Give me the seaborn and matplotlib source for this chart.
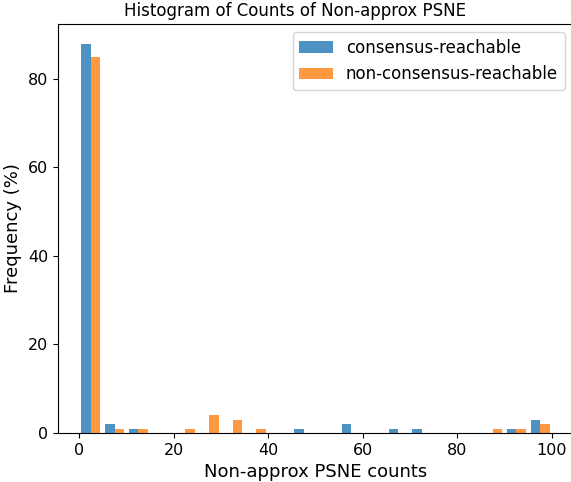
"""Histogram of non-approx PSNE counts, split by consensus reachability."""

import numpy as np
import pandas as pd
import matplotlib
matplotlib.use("Agg")
import matplotlib.pyplot as plt
import seaborn as sns

# bin edges (width 5, from 0 to 100)
bin_edges = list(range(0, 105, 5))

# percentage of games per bin
consensus_pct = [88, 2, 1, 0, 0, 0, 0, 0, 0, 1, 0, 2, 0, 1, 1, 0, 0, 0, 1, 3]
non_consensus_pct = [85, 1, 1, 0, 1, 4, 3, 1, 0, 0, 0, 0, 0, 0, 0, 0, 0, 1, 1, 2]

groups = ["consensus-reachable", "non-consensus-reachable"]
colors = ["#1f77b4", "#ff7f0e"]

# one row per bin and group, placed at the bin centre and weighted by its share
centres = [(a + b) / 2 for a, b in zip(bin_edges[:-1], bin_edges[1:])]
df = pd.DataFrame({
    "count": centres * 2,
    "weight": consensus_pct + non_consensus_pct,
    "group": [groups[0]] * len(centres) + [groups[1]] * len(centres),
})

fig = plt.figure(figsize=(5.71, 4.82), dpi=100)
ax = fig.add_axes([0.1016, 0.1017, 0.9019, 0.8483])

sns.histplot(
    data=df, x="count", weights="weight", hue="group",
    hue_order=groups, palette=colors, bins=bin_edges,
    stat="percent", common_norm=False, multiple="dodge",
    shrink=0.8, alpha=0.8, linewidth=0, ax=ax,
)

ax.margins(x=0.05)
# the original figure was cropped on the right, so the title sits left of centre
ax.set_title("Histogram of Counts of Non-approx PSNE", fontsize=12, x=0.46)
ax.set_xlabel("Non-approx PSNE counts", fontsize=13)
ax.set_ylabel("Frequency (%)", fontsize=13)
ax.tick_params(labelsize=11.5)
ax.set_xticks([0, 20, 40, 60, 80, 100])
ax.set_yticks([0, 20, 40, 60, 80])

sns.move_legend(ax, "upper right", title=None, fontsize=12)

fig.savefig("out.png", dpi=100)
